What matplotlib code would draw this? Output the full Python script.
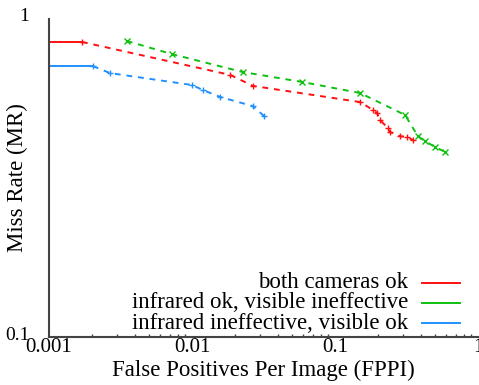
import numpy as np
import matplotlib.pyplot as plt
import matplotlib.transforms as mtransforms

plt.rcParams['font.family'] = ['Liberation Serif', 'DejaVu Serif']

both_fppi = [0.001, 0.0017, 0.0185, 0.0267, 0.150, 0.185, 0.197, 0.206, 0.235, 0.242, 0.285, 0.318, 0.351]
both_mr = [0.847, 0.847, 0.667, 0.616, 0.548, 0.517, 0.506, 0.481, 0.454, 0.441, 0.428, 0.426, 0.416]

ir_fppi = [0.0035, 0.0072, 0.0227, 0.0588, 0.150, 0.309, 0.380, 0.426, 0.50, 0.588]
ir_mr = [0.853, 0.776, 0.681, 0.634, 0.585, 0.499, 0.428, 0.413, 0.396, 0.382]

vis_fppi = [0.001, 0.00203, 0.00267, 0.01, 0.0119, 0.0157, 0.0267, 0.0319]
vis_mr = [0.711, 0.711, 0.676, 0.620, 0.598, 0.569, 0.532, 0.495]

labels = ["both cameras ok", "infrared ok, visible ineffective", "infrared ineffective, visible ok"]
colors = ["#ff1010", "#10c010", "#2090ff"]

fig = plt.figure(figsize=(4.79, 3.85), dpi=100)
ax = fig.add_axes([49/479, 48/385, 429/479, 318/385])

series = [(both_fppi, both_mr), (ir_fppi, ir_mr), (vis_fppi, vis_mr)]
for i, (x, y) in enumerate(series):
    c = colors[i]
    if x[0] == 0.001:
        # flat start drawn solid, the rest dashed
        ax.plot(x[:2], y[:2], color=c, lw=1.4)
        ax.plot(x[1:], y[1:], color=c, lw=1.4, ls=(0, (3, 3)), marker='+', ms=5, mew=1)
    else:
        ax.plot(x, y, color=c, lw=1.4, ls=(0, (3, 3)), marker='x', ms=4, mew=1)

ax.set_xscale('log')
ax.set_yscale('log')
ax.set_xlim(0.001, 1)
ax.set_ylim(0.1, 1)

ax.set_xticks([0.001, 0.01, 0.1, 1])
ax.set_xticklabels(["0.001", "0.01", "0.1", "1"])
ax.set_yticks([0.1, 1])
ax.set_yticklabels(["0.1", "1"])
ax.tick_params(which='major', length=0)
ax.tick_params(axis='x', labelsize=15, pad=1)
ax.tick_params(axis='y', labelsize=14, pad=14)
ax.tick_params(which='minor', direction='in', length=2, width=1, color='#444444', labelleft=False, labelbottom=False)
ax.yaxis.set_minor_locator(plt.NullLocator())
# y tick labels sit a bit above their ticks in the original
shift = mtransforms.ScaledTranslation(0, 4/100, fig.dpi_scale_trans)
for t in ax.get_yticklabels():
    t.set_transform(t.get_transform() + shift)

for s in ['top', 'right']:
    ax.spines[s].set_visible(False)
for s in ['left', 'bottom']:
    ax.spines[s].set_color('#444444')
    ax.spines[s].set_linewidth(1.5)

ax.set_xlabel("False Positives Per Image (FPPI)", fontsize=16.5, labelpad=2)
ax.set_ylabel("Miss Rate (MR)", fontsize=16.5)
ax.yaxis.set_label_coords(-0.05, 0.5)

# legend: text right-aligned, line sample on the right
for i, lab in enumerate(labels):
    yy = 0.170 - i * 0.063
    ax.text(0.837, yy, lab, transform=ax.transAxes, ha='right', va='center', fontsize=16.5)
    ax.plot([0.869, 0.958], [yy, yy], transform=ax.transAxes, color=colors[i], lw=1.4)

fig.savefig("out.png", dpi=100)
